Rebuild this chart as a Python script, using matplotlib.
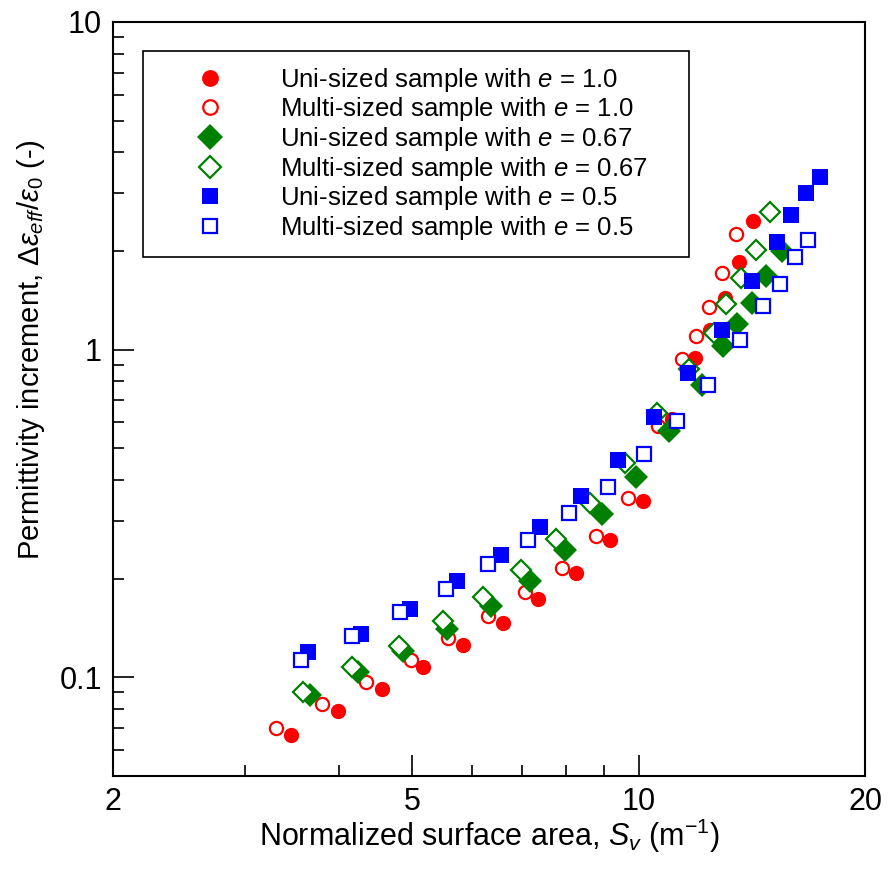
"""Permittivity increment vs normalized surface area (log-log scatter)."""

import matplotlib

matplotlib.use("Agg")
import matplotlib.pyplot as plt  # noqa: E402
from matplotlib.ticker import FixedLocator, NullFormatter, FixedFormatter  # noqa: E402

FONT = ["Liberation Sans", "DejaVu Sans"]
plt.rcParams.update({
    "font.family": FONT,
    "mathtext.fontset": "custom",
    "mathtext.rm": "Liberation Sans",
    "mathtext.it": "Liberation Sans:italic",
    "mathtext.sf": "Liberation Sans",
    "axes.linewidth": 1.5,
})

RED = "#ff0000"
GREEN = "#008000"
BLUE = "#0000ff"

# Uni-sized, e = 1.0
uni_10_x = [3.45, 3.98, 4.56, 5.17, 5.84, 6.60, 7.35, 8.26, 9.16, 10.14,
            11.08, 11.88, 12.44, 13.03, 13.60, 14.20]
uni_10_y = [0.0666, 0.0787, 0.0919, 0.1073, 0.1252, 0.1461, 0.1729, 0.2075,
            0.2634, 0.3441, 0.6162, 0.9454, 1.151, 1.440, 1.855, 2.473]
# Multi-sized, e = 1.0
multi_10_x = [3.29, 3.79, 4.34, 4.98, 5.58, 6.31, 7.06, 7.91, 8.78, 9.68,
              10.61, 11.42, 11.92, 12.40, 12.91, 13.48]
multi_10_y = [0.0699, 0.0827, 0.0965, 0.1127, 0.1315, 0.1535, 0.1816, 0.2164,
              0.2692, 0.3538, 0.5866, 0.9389, 1.103, 1.352, 1.717, 2.258]
# Uni-sized, e = 0.67
uni_067_x = [3.66, 4.24, 4.86, 5.56, 6.37, 7.17, 7.98, 8.94, 9.92, 10.97,
             12.14, 12.95, 13.52, 14.15, 14.77, 15.51]
uni_067_y = [0.0881, 0.1035, 0.1200, 0.1401, 0.1646, 0.1962, 0.2439, 0.3141,
             0.4101, 0.5662, 0.7821, 1.029, 1.200, 1.390, 1.680, 2.003]
# Multi-sized, e = 0.67
multi_067_x = [3.58, 4.16, 4.80, 5.50, 6.21, 6.97, 7.76, 8.62, 9.59, 10.58,
               11.67, 12.60, 13.07, 13.68, 14.33, 14.95]
multi_067_y = [0.0900, 0.1073, 0.1243, 0.1482, 0.1754, 0.2120, 0.2653, 0.3416,
               0.4523, 0.6427, 0.8752, 1.127, 1.381, 1.658, 2.017, 2.634]
# Uni-sized, e = 0.5
uni_05_x = [3.63, 4.27, 4.97, 5.74, 6.56, 7.39, 8.38, 9.39, 10.48, 11.63,
            12.91, 14.15, 15.28, 15.95, 16.70, 17.43]
uni_05_y = [0.1192, 0.1352, 0.1612, 0.1962, 0.2355, 0.2886, 0.3589, 0.4619,
            0.6246, 0.8509, 1.151, 1.623, 2.135, 2.579, 3.011, 3.368]
# Multi-sized, e = 0.5
multi_05_x = [3.56, 4.16, 4.82, 5.54, 6.31, 7.13, 8.08, 9.10, 10.17, 11.25,
              12.36, 13.64, 14.64, 15.42, 16.14, 16.80]
multi_05_y = [0.1127, 0.1334, 0.1578, 0.1855, 0.2211, 0.2634, 0.3184, 0.3822,
              0.4819, 0.6075, 0.7821, 1.073, 1.362, 1.589, 1.921, 2.164]

x_major = [2, 5, 10, 20]
x_minor = [3, 4, 6, 7, 8, 9]
y_major = [0.1, 1, 10]
y_major_labels = ["0.1", "1", "10"]
y_minor = [0.06, 0.07, 0.08, 0.09, 0.2, 0.3, 0.4, 0.5, 0.6, 0.7, 0.8, 0.9,
           2, 3, 4, 5, 6, 7, 8, 9]

series = [
    (uni_10_x, uni_10_y, "o", RED, True, r"Uni-sized sample with $e$ = 1.0"),
    (multi_10_x, multi_10_y, "o", RED, False, r"Multi-sized sample with $e$ = 1.0"),
    (uni_067_x, uni_067_y, "D", GREEN, True, r"Uni-sized sample with $e$ = 0.67"),
    (multi_067_x, multi_067_y, "D", GREEN, False, r"Multi-sized sample with $e$ = 0.67"),
    (uni_05_x, uni_05_y, "s", BLUE, True, r"Uni-sized sample with $e$ = 0.5"),
    (multi_05_x, multi_05_y, "s", BLUE, False, r"Multi-sized sample with $e$ = 0.5"),
]

fig = plt.figure(figsize=(8.92, 8.72), dpi=100)
ax = fig.add_axes([113 / 892, 1 - 776 / 872, 752 / 892, 754 / 872])

for x, y, m, c, filled, label in series:
    ms = {"o": 11, "D": 12, "s": 11}[m]
    if not filled:
        ms -= 1.5
    ax.plot(x, y, linestyle="none", marker=m, markersize=ms,
            markerfacecolor=c if filled else "white", markeredgecolor=c,
            markeredgewidth=0 if filled else 1.6, label=label)

ax.set_xscale("log")
ax.set_yscale("log")
ax.set_xlim(2, 20)
ax.set_ylim(0.05, 10)

ax.xaxis.set_major_locator(FixedLocator(x_major))
ax.xaxis.set_major_formatter(FixedFormatter([str(v) for v in x_major]))
ax.xaxis.set_minor_locator(FixedLocator(x_minor))
ax.xaxis.set_minor_formatter(NullFormatter())
ax.yaxis.set_major_locator(FixedLocator(y_major))
ax.yaxis.set_major_formatter(FixedFormatter(y_major_labels))
ax.yaxis.set_minor_locator(FixedLocator(y_minor))
ax.yaxis.set_minor_formatter(NullFormatter())

ax.tick_params(which="both", direction="in", top=False, right=False,
               width=1.2, labelsize=22, pad=8)
ax.tick_params(which="major", length=15)
ax.tick_params(which="minor", length=8)

ax.set_xlabel(r"Normalized surface area, $S_v$ (m$^{-1}$)", fontsize=22, labelpad=0)
ax.set_ylabel(r"Permittivity increment, $\Delta\varepsilon_{eff}/\varepsilon_0$ (-)",
              fontsize=21)
ax.yaxis.set_label_coords(-0.088, 0.565)

leg = ax.legend(loc="upper left", bbox_to_anchor=(30 / 752, 0.3, 546 / 752, 0.6615),
                mode="expand", fontsize=18.5, frameon=True, fancybox=False,
                edgecolor="black", framealpha=1, borderpad=0.58, labelspacing=0.06,
                handlelength=4.05, handletextpad=0.7, borderaxespad=0,
                markerscale=1.1)
leg.get_frame().set_linewidth(1.2)

fig.savefig("out.png", dpi=100)
